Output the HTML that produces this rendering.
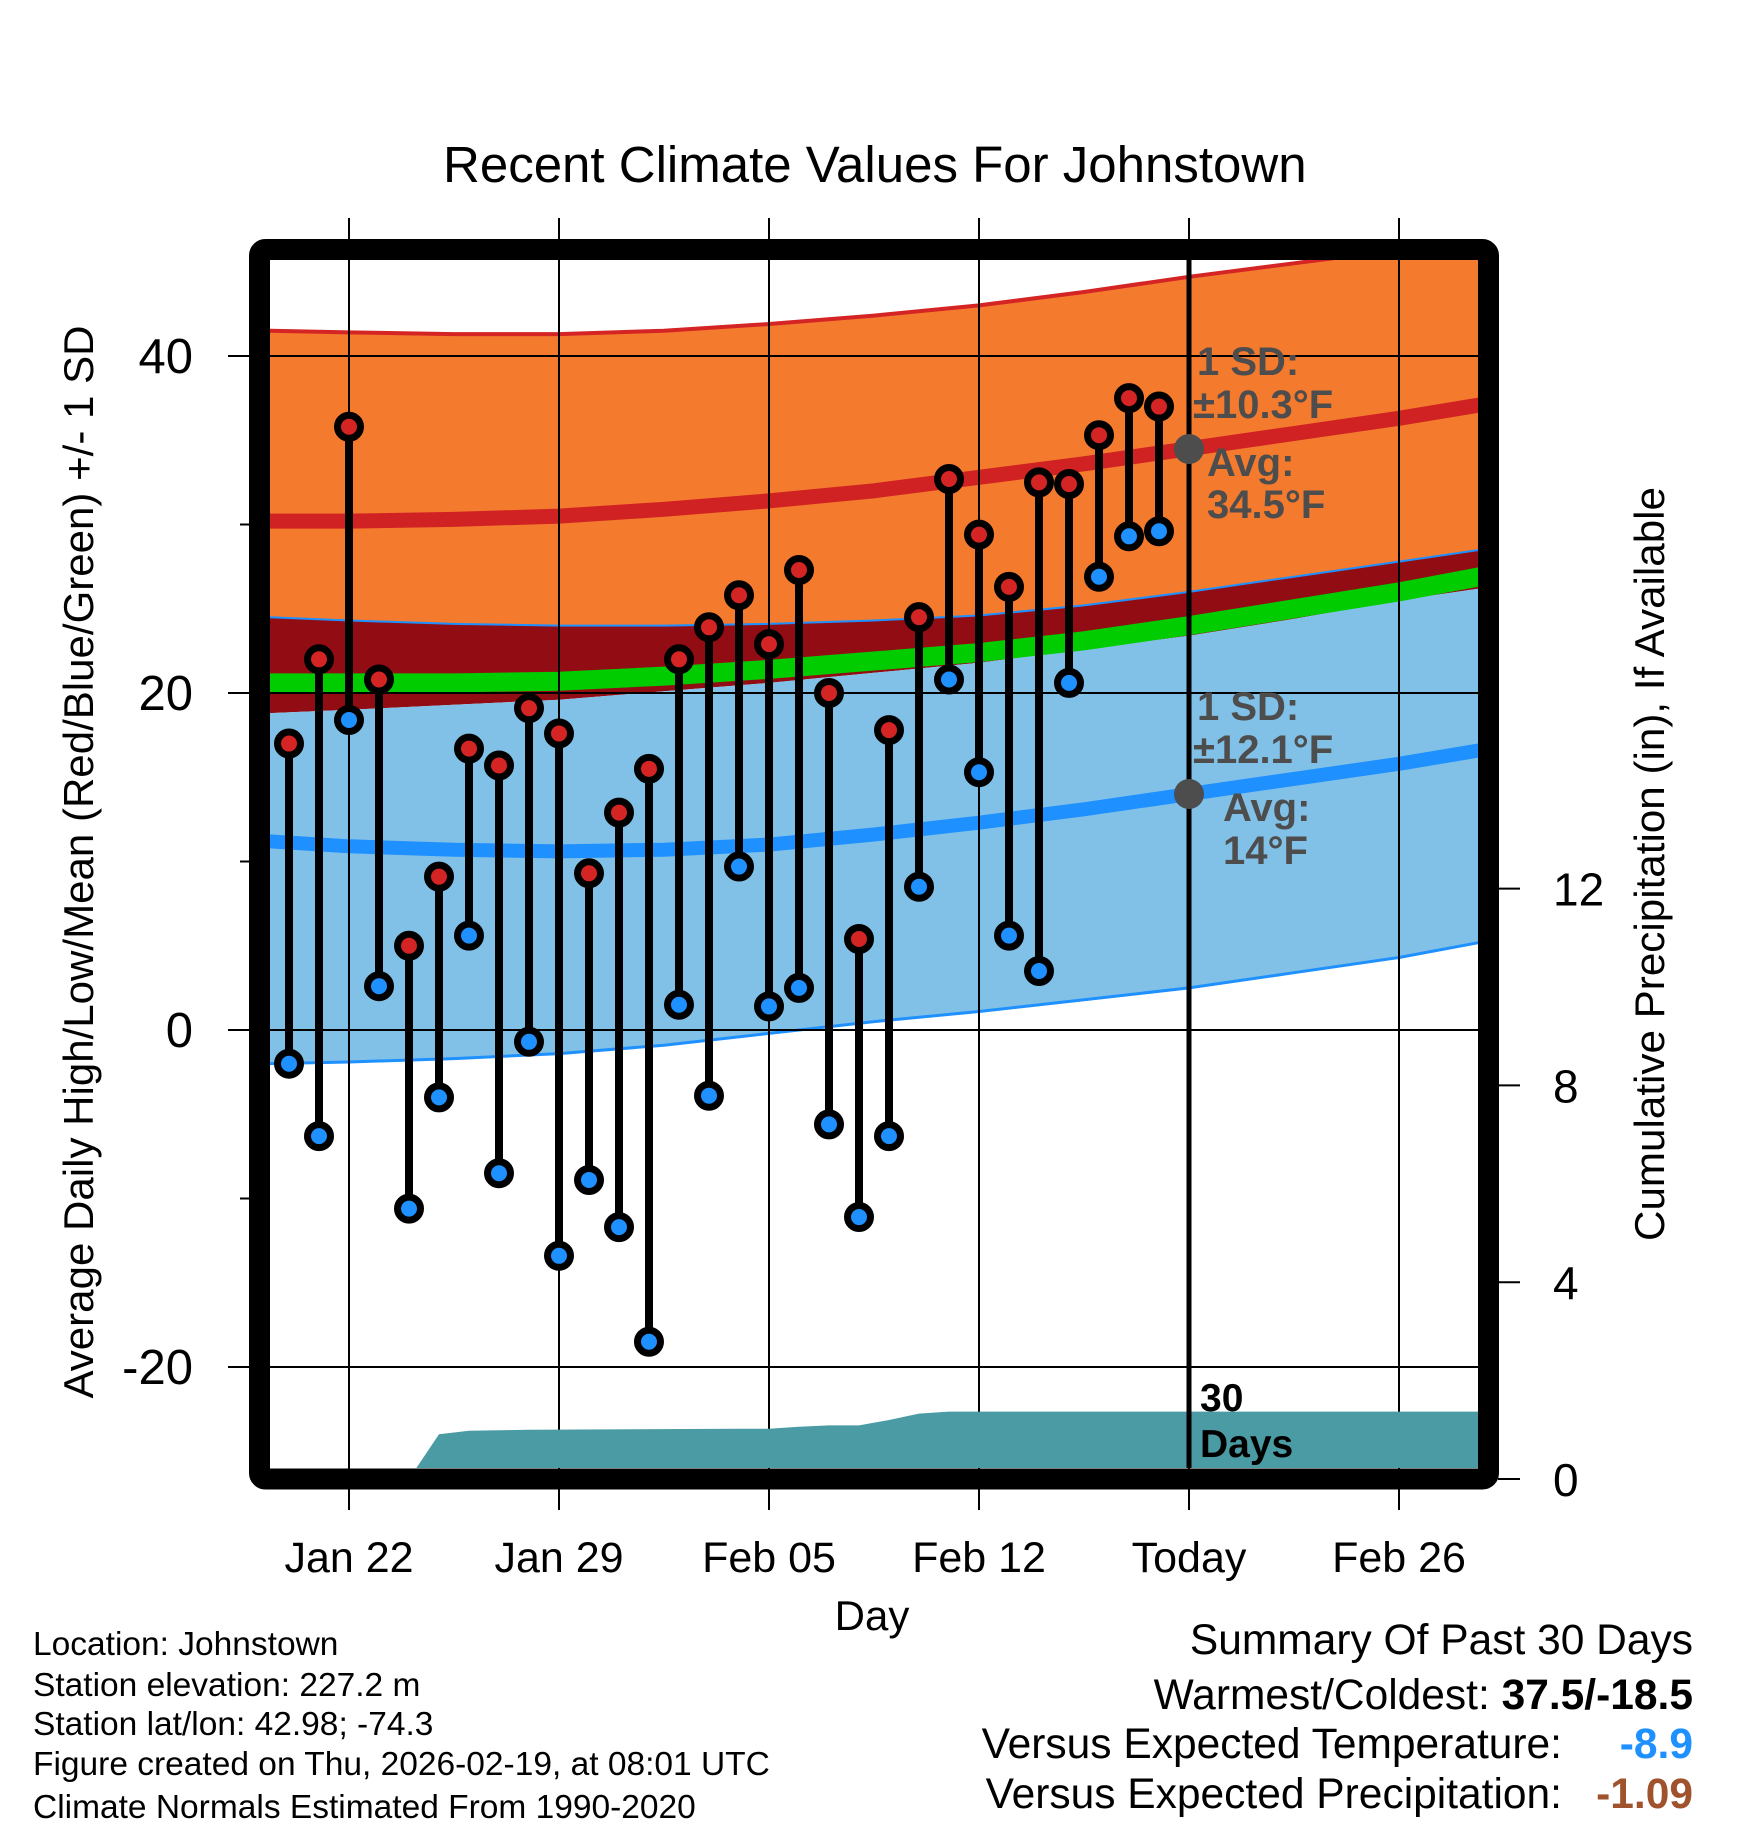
<!DOCTYPE html>
<html><head><meta charset="utf-8">
<style>
html,body{margin:0;padding:0;background:#fff;}
svg{display:block;font-family:"Liberation Sans",sans-serif;}
</style></head>
<body>
<svg id="chart" width="1748" height="1828" viewBox="0 0 1748 1828" xmlns="http://www.w3.org/2000/svg">
<defs><clipPath id="plotclip"><rect x="270" y="260" width="1208" height="1208"/></clipPath></defs>
<text x="443" y="182" font-size="51">Recent Climate Values For Johnstown</text>
<g id="bands" clip-path="url(#plotclip)"></g>
<g id="grid"></g>
<g id="precip" clip-path="url(#plotclip)"></g>
<line x1="1189" y1="260" x2="1189" y2="1468" stroke="#000" stroke-width="5"/>
<g id="marks"></g>
<g id="annot" font-weight="bold" fill="#4d4d4d" font-size="40">
<circle cx="1189" cy="449" r="15" fill="#4d4d4d"/>
<circle cx="1189" cy="794" r="15" fill="#4d4d4d"/>
<text x="1197" y="375">1 SD:</text>
<text x="1193" y="418">±10.3°F</text>
<text x="1207" y="476">Avg:</text>
<text x="1207" y="518">34.5°F</text>
<text x="1197" y="720">1 SD:</text>
<text x="1193" y="763">±12.1°F</text>
<text x="1223" y="821">Avg:</text>
<text x="1223" y="864">14°F</text>
</g>
<g font-weight="bold" font-size="39" fill="#000">
<text x="1200" y="1411">30</text>
<text x="1200" y="1457">Days</text>
</g>
<rect x="259.5" y="249.5" width="1229" height="1229.5" rx="6" fill="none" stroke="#000" stroke-width="21"/>
<g id="axes"></g>
<text transform="translate(93,862) rotate(-90)" text-anchor="middle" font-size="42" textLength="1073" lengthAdjust="spacingAndGlyphs">Average Daily High/Low/Mean (Red/Blue/Green) +/- 1 SD</text>
<text transform="translate(1664,864) rotate(-90)" text-anchor="middle" font-size="42" textLength="754" lengthAdjust="spacingAndGlyphs">Cumulative Precipitation (in), If Available</text>
<text x="872" y="1630" text-anchor="middle" font-size="42">Day</text>
<g font-size="33.5">
<text x="33" y="1655">Location: Johnstown</text>
<text x="33" y="1696">Station elevation: 227.2 m</text>
<text x="33" y="1735">Station lat/lon: 42.98; -74.3</text>
<text x="33" y="1775">Figure created on Thu, 2026-02-19, at 08:01 UTC</text>
<text x="33" y="1818">Climate Normals Estimated From 1990-2020</text>
</g>
<g font-size="42.5">
<text x="1693" y="1654" text-anchor="end">Summary Of Past 30 Days</text>
<text x="1693" y="1709" text-anchor="end">Warmest/Coldest: <tspan font-weight="bold">37.5/-18.5</tspan></text>
<text x="1562" y="1758" text-anchor="end">Versus Expected Temperature:</text>
<text x="1693" y="1758" text-anchor="end" font-weight="bold" fill="#1e90ff">-8.9</text>
<text x="1562" y="1808" text-anchor="end">Versus Expected Precipitation:</text>
<text x="1693" y="1808" text-anchor="end" font-weight="bold" fill="#a0522d">-1.09</text>
</g>
</svg>
<script>
// day offsets relative to Jan 22
const dayOffsets = [-2,-1,0,1,2,3,4,5,6,7,8,9,10,11,12,13,14,15,16,17,18,19,20,21,22,23,24,25,26,27];
const highs = [17,22,35.8,20.8,5,9.1,16.7,15.7,19.1,17.6,9.3,12.9,15.5,22,23.9,25.8,22.9,27.3,20,5.4,17.8,24.5,32.7,29.4,26.3,32.5,32.4,35.3,37.5,37];
const lows = [-2,-6.3,18.4,2.6,-10.6,-4,5.6,-8.5,-0.7,-13.4,-8.9,-11.7,-18.5,1.5,-3.9,9.7,1.4,2.5,-5.6,-11.1,-6.3,8.5,20.8,15.3,5.6,3.5,20.6,26.9,29.3,29.6];
// normals sampled at day offsets
const normDays = [-2.7,0,3.5,7,10.5,14,17.5,21,24.5,28,31.5,35,37.7];
const highUpper = [41.5,41.4,41.3,41.3,41.5,41.9,42.4,43.0,43.8,44.7,45.5,46.3,47.0];
const highAvg = [30.2,30.2,30.3,30.5,30.9,31.4,32.0,32.8,33.6,34.5,35.4,36.3,37.1];
const highLower = [24.5,24.3,24.1,24.0,24.0,24.1,24.3,24.6,25.2,26.0,26.9,27.8,28.5];
const meanAvg = [20.6,20.6,20.6,20.7,21.0,21.4,21.9,22.4,23.1,24.0,25.0,26.0,26.9];
const lowUpper = [18.8,19.0,19.3,19.6,20.1,20.6,21.2,21.8,22.6,23.4,24.4,25.5,26.2];
const lowAvg = [11.2,10.9,10.7,10.6,10.7,11.0,11.6,12.3,13.1,14.0,14.9,15.8,16.6];
const lowLower = [-2.0,-1.9,-1.7,-1.4,-0.9,-0.2,0.5,1.1,1.8,2.5,3.4,4.3,5.2];
// cumulative precipitation
const precipDays = [2,3,4,5,6,13,14,15,16,17,18,19,20,27,37.7];
const precipCum = [0,0.91,0.98,0.99,1.0,1.02,1.02,1.06,1.09,1.09,1.2,1.33,1.37,1.37,1.37];
const yTicks = [-20,0,20,40];
const yMinor = [-10,10,30];
const pTicks = [0,4,8,12];
const xTickDays = [0,7,14,21,28,35];
const xTickLabels = ["Jan 22","Jan 29","Feb 05","Feb 12","Today","Feb 26"];

const NS = "http://www.w3.org/2000/svg";
const X = d => 349 + 30*d;
const Y = t => 1030 - 16.85*t;
const P = p => 1479 - 49.2*p;
function mk(tag, attrs, parent){const e=document.createElementNS(NS,tag);for(const k in attrs)e.setAttribute(k,attrs[k]);parent.appendChild(e);return e;}
function pts(days, vals){return days.map((d,i)=>X(d).toFixed(1)+","+Y(vals[i]).toFixed(1));}

const bands = document.getElementById("bands");
let e;
e = mk("polygon",{points:pts(normDays,highUpper).concat(pts(normDays,highLower).reverse()).join(" "),fill:"#f47a2e"},bands);


e = mk("polygon",{points:pts(normDays,highLower).concat(pts(normDays,lowUpper).reverse()).join(" "),fill:"#920c14"},bands);


e = mk("polygon",{points:pts(normDays,lowUpper).concat(pts(normDays,lowLower).reverse()).join(" "),fill:"#82c1e7"},bands);


e = mk("polyline",{points:pts(normDays,highUpper).join(" "),fill:"none",stroke:"#d42424","stroke-width":4},bands);


e = mk("polyline",{points:pts(normDays,highLower).join(" "),fill:"none",stroke:"#1e90ff","stroke-width":2},bands);


e = mk("polyline",{points:pts(normDays,lowLower).join(" "),fill:"none",stroke:"#1e90ff","stroke-width":3},bands);


e = mk("polyline",{points:pts(normDays,meanAvg).join(" "),fill:"none",stroke:"#00cc00","stroke-width":19},bands);


e = mk("polyline",{points:pts(normDays,highAvg).join(" "),fill:"none",stroke:"#d02222","stroke-width":15},bands);


e = mk("polyline",{points:pts(normDays,lowAvg).join(" "),fill:"none",stroke:"#1e90ff","stroke-width":14},bands);



const grid = document.getElementById("grid");
xTickDays.forEach(d=>{
  const l = mk("line",{x1:X(d),x2:X(d),y1:218,y2:1510,stroke:"#000","stroke-width":2},grid);
  
  
});
yTicks.forEach(t=>{
  const l = mk("line",{x1:228,x2:1478,y1:Y(t),y2:Y(t),stroke:"#000","stroke-width":2},grid);
  
  
});

const precip = document.getElementById("precip");
const pp = precipDays.map((d,i)=>X(d).toFixed(1)+","+P(precipCum[i]).toFixed(1));
pp.push(X(precipDays[precipDays.length-1]).toFixed(1)+",1490");
pp.push(X(precipDays[0]).toFixed(1)+",1490");
e = mk("polygon",{points:pp.join(" "),fill:"#4a9ba3"},precip);



const marks = document.getElementById("marks");
dayOffsets.forEach((d,i)=>{
  const s = mk("line",{x1:X(d),x2:X(d),y1:Y(highs[i]),y2:Y(lows[i]),stroke:"#000","stroke-width":8},marks);
  
  
});
dayOffsets.forEach((d,i)=>{
  const h = mk("circle",{cx:X(d),cy:Y(highs[i]),r:11.5,fill:"#d42424",stroke:"#000","stroke-width":7},marks);
  
  
  const lo = mk("circle",{cx:X(d),cy:Y(lows[i]),r:11.5,fill:"#1e90ff",stroke:"#000","stroke-width":7},marks);
  
  
});

const axes = document.getElementById("axes");
yTicks.forEach(t=>{
  const tl = mk("line",{x1:228,x2:250,y1:Y(t),y2:Y(t),stroke:"#000","stroke-width":2},axes);
  
  
  const tx = mk("text",{x:193,y:Y(t)+17,"text-anchor":"end","font-size":49},axes);
  tx.textContent = String(t);
  
  
});
yMinor.forEach(t=>{
  const tl = mk("line",{x1:240,x2:250,y1:Y(t),y2:Y(t),stroke:"#000","stroke-width":2},axes);
  
  
});
pTicks.forEach(p=>{
  const tl = mk("line",{x1:1498,x2:1520,y1:P(p),y2:P(p),stroke:"#000","stroke-width":2},axes);
  
  
  const tx = mk("text",{x:1553,y:P(p)+17,"font-size":46},axes);
  tx.textContent = String(p);
  
  
});
xTickDays.forEach((d,i)=>{
  const tx = mk("text",{x:X(d),y:1572,"text-anchor":"middle","font-size":43},axes);
  tx.textContent = xTickLabels[i];
  
  
});
</script>
</body></html>
